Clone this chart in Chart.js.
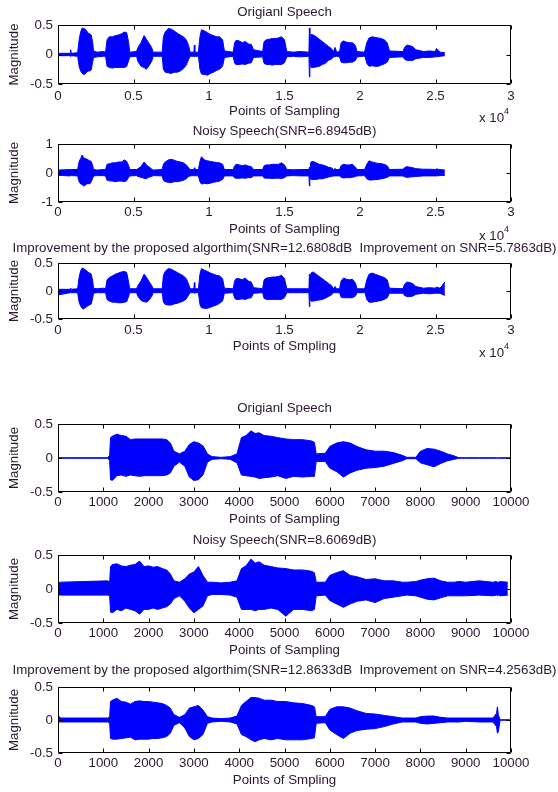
<!DOCTYPE html>
<html>
<head>
<meta charset="utf-8">
<script src="https://cdn.jsdelivr.net/npm/chart.js@4.4.1/dist/chart.umd.min.js"></script>
<style>
  html, body { margin: 0; padding: 0; background: #fff; }
  #page { position: relative; width: 558px; height: 792px; overflow: hidden; }
  #page canvas { position: absolute; left: 0; }
</style>
</head>
<body>
<div id="page"></div>
<script>
// ---- data: waveform envelopes (upper / lower peak per breakpoint) ----

// first speech clip, 0..30000 samples
const longSamples = [
  0, 800, 840, 880, 1300, 1400, 1500, 1600, 1700, 1800,
  1900, 2000, 2100, 2200, 2300, 2350, 2600, 3000, 3150, 3250,
  3400, 3600, 3800, 4000, 4200, 4400, 4550, 4680, 4750, 5200,
  5300, 5500, 5700, 5850, 6000, 6200, 6300, 6900, 6980, 7100,
  7300, 7500, 7700, 7900, 8100, 8300, 8500, 8650, 8750, 9000,
  9030, 9060, 9300, 9400, 9500, 9700, 9900, 10100, 10300, 10500,
  10700, 10900, 11020, 11600, 11700, 11800, 12000, 12200, 12400, 12600,
  12800, 12950, 13550, 13650, 13800, 14000, 14200, 14400, 14600, 14800,
  15000, 15150, 15600, 16000, 16620, 16650, 16680, 16750, 16900, 17100,
  17300, 17500, 17700, 17900, 18100, 18250, 18350, 18450, 18650, 18750,
  18900, 19100, 19300, 19500, 19700, 19800, 20250, 20330, 20450, 20600,
  20800, 21000, 21200, 21400, 21600, 21800, 21950, 22850, 22950, 23100,
  23300, 23500, 23700, 24200, 24600, 25000, 25050, 25300, 25620
];

const orig1Upper = [
  0.02, 0.02, 0.08, 0.02, 0.03, 0.25, 0.38, 0.45, 0.44, 0.43,
  0.4, 0.36, 0.35, 0.33, 0.2, 0.06, 0.04, 0.05, 0.04, 0.25,
  0.3, 0.3, 0.32, 0.33, 0.35, 0.38, 0.37, 0.2, 0.04, 0.05,
  0.12, 0.2, 0.32, 0.26, 0.2, 0.12, 0.04, 0.04, 0.3, 0.38,
  0.44, 0.43, 0.4, 0.36, 0.33, 0.3, 0.25, 0.15, 0.04, 0.04,
  0.16, 0.04, 0.04, 0.3, 0.42, 0.4, 0.37, 0.34, 0.32, 0.3,
  0.3, 0.25, 0.06, 0.04, 0.2, 0.24, 0.23, 0.2, 0.22, 0.18,
  0.17, 0.08, 0.05, 0.22, 0.25, 0.26, 0.27, 0.27, 0.28, 0.3,
  0.25, 0.05, 0.04, 0.05, 0.04, 0.45, 0.05, 0.34, 0.33, 0.3,
  0.26, 0.22, 0.18, 0.14, 0.1, 0.05, 0.12, 0.04, 0.05, 0.2,
  0.23, 0.21, 0.2, 0.2, 0.15, 0.05, 0.04, 0.07, 0.2, 0.28,
  0.3, 0.29, 0.28, 0.27, 0.25, 0.2, 0.06, 0.05, 0.12, 0.16,
  0.15, 0.13, 0.08, 0.05, 0.06, 0.05, 0.1, 0.04, 0.03
];
const orig1Lower = [
  -0.02, -0.02, -0.03, -0.02, -0.03, -0.2, -0.28, -0.32, -0.34, -0.33,
  -0.3, -0.28, -0.28, -0.26, -0.12, -0.05, -0.04, -0.03, -0.03, -0.2,
  -0.22, -0.23, -0.22, -0.22, -0.22, -0.22, -0.2, -0.1, -0.04, -0.03,
  -0.12, -0.2, -0.22, -0.25, -0.2, -0.12, -0.03, -0.03, -0.25, -0.3,
  -0.31, -0.32, -0.3, -0.3, -0.28, -0.24, -0.18, -0.08, -0.03, -0.03,
  -0.04, -0.03, -0.03, -0.25, -0.33, -0.34, -0.35, -0.32, -0.3, -0.27,
  -0.25, -0.2, -0.05, -0.03, -0.15, -0.17, -0.17, -0.16, -0.17, -0.15,
  -0.14, -0.05, -0.04, -0.15, -0.17, -0.17, -0.18, -0.17, -0.17, -0.17,
  -0.14, -0.04, -0.03, -0.04, -0.03, -0.38, -0.04, -0.22, -0.22, -0.21,
  -0.2, -0.17, -0.15, -0.1, -0.08, -0.04, -0.04, -0.03, -0.04, -0.13,
  -0.14, -0.14, -0.13, -0.13, -0.1, -0.04, -0.03, -0.03, -0.15, -0.2,
  -0.19, -0.2, -0.2, -0.18, -0.16, -0.13, -0.05, -0.04, -0.08, -0.1,
  -0.1, -0.1, -0.07, -0.05, -0.05, -0.04, -0.04, -0.03, -0.02
];

const noisy1Upper = [
  0.1, 0.12, 0.1, 0.12, 0.12, 0.4, 0.5, 0.62, 0.52, 0.5,
  0.48, 0.45, 0.42, 0.4, 0.25, 0.12, 0.1, 0.12, 0.12, 0.3,
  0.32, 0.35, 0.35, 0.38, 0.38, 0.45, 0.4, 0.25, 0.12, 0.12,
  0.15, 0.22, 0.38, 0.28, 0.22, 0.14, 0.1, 0.12, 0.3, 0.38,
  0.45, 0.47, 0.44, 0.4, 0.38, 0.35, 0.28, 0.18, 0.12, 0.12,
  0.18, 0.12, 0.12, 0.4, 0.56, 0.45, 0.42, 0.4, 0.38, 0.36,
  0.35, 0.3, 0.12, 0.12, 0.25, 0.3, 0.28, 0.25, 0.28, 0.24,
  0.22, 0.12, 0.12, 0.25, 0.28, 0.28, 0.3, 0.3, 0.3, 0.35,
  0.28, 0.12, 0.11, 0.12, 0.12, 0.2, 0.12, 0.38, 0.4, 0.35,
  0.3, 0.28, 0.25, 0.2, 0.18, 0.12, 0.15, 0.12, 0.12, 0.25,
  0.3, 0.28, 0.28, 0.3, 0.2, 0.12, 0.12, 0.14, 0.3, 0.42,
  0.38, 0.35, 0.33, 0.32, 0.3, 0.25, 0.12, 0.13, 0.18, 0.22,
  0.2, 0.18, 0.15, 0.13, 0.13, 0.12, 0.14, 0.12, 0.1
];
const noisy1Lower = [
  -0.08, -0.1, -0.08, -0.09, -0.1, -0.3, -0.38, -0.4, -0.45, -0.42,
  -0.38, -0.36, -0.38, -0.3, -0.18, -0.1, -0.09, -0.09, -0.1, -0.25,
  -0.27, -0.28, -0.3, -0.28, -0.28, -0.3, -0.26, -0.15, -0.1, -0.09,
  -0.12, -0.15, -0.18, -0.2, -0.15, -0.12, -0.09, -0.1, -0.25, -0.3,
  -0.32, -0.33, -0.3, -0.3, -0.28, -0.25, -0.2, -0.12, -0.1, -0.09,
  -0.1, -0.09, -0.1, -0.3, -0.38, -0.36, -0.37, -0.35, -0.32, -0.3,
  -0.28, -0.22, -0.1, -0.1, -0.17, -0.18, -0.18, -0.17, -0.18, -0.16,
  -0.16, -0.1, -0.1, -0.17, -0.18, -0.18, -0.19, -0.18, -0.18, -0.19,
  -0.16, -0.1, -0.09, -0.1, -0.1, -0.45, -0.12, -0.22, -0.22, -0.22,
  -0.2, -0.2, -0.17, -0.14, -0.12, -0.1, -0.1, -0.1, -0.1, -0.15,
  -0.17, -0.16, -0.16, -0.15, -0.12, -0.1, -0.09, -0.1, -0.2, -0.24,
  -0.24, -0.23, -0.22, -0.2, -0.18, -0.15, -0.1, -0.1, -0.13, -0.15,
  -0.14, -0.13, -0.12, -0.1, -0.1, -0.1, -0.1, -0.09, -0.08
];

const clean1Upper = [
  0.03, 0.03, 0.05, 0.03, 0.04, 0.25, 0.36, 0.41, 0.4, 0.38,
  0.36, 0.33, 0.32, 0.3, 0.18, 0.05, 0.04, 0.05, 0.04, 0.2,
  0.24, 0.27, 0.3, 0.32, 0.34, 0.35, 0.33, 0.15, 0.04, 0.04,
  0.1, 0.18, 0.3, 0.25, 0.18, 0.1, 0.04, 0.04, 0.28, 0.35,
  0.4, 0.39, 0.36, 0.33, 0.3, 0.27, 0.22, 0.12, 0.04, 0.04,
  0.15, 0.04, 0.04, 0.3, 0.4, 0.37, 0.35, 0.32, 0.3, 0.28,
  0.27, 0.22, 0.05, 0.04, 0.18, 0.22, 0.22, 0.2, 0.23, 0.18,
  0.16, 0.06, 0.04, 0.2, 0.23, 0.24, 0.25, 0.25, 0.26, 0.28,
  0.22, 0.04, 0.04, 0.04, 0.04, 0.3, 0.05, 0.32, 0.34, 0.3,
  0.26, 0.22, 0.18, 0.14, 0.1, 0.04, 0.08, 0.04, 0.04, 0.18,
  0.23, 0.21, 0.2, 0.21, 0.14, 0.04, 0.04, 0.06, 0.2, 0.3,
  0.32, 0.3, 0.28, 0.26, 0.24, 0.2, 0.05, 0.04, 0.12, 0.16,
  0.15, 0.13, 0.08, 0.05, 0.06, 0.05, 0.07, 0.05, 0.16
];
const clean1Lower = [
  -0.07, -0.03, -0.03, -0.03, -0.03, -0.2, -0.27, -0.31, -0.32, -0.3,
  -0.28, -0.26, -0.25, -0.23, -0.12, -0.04, -0.03, -0.03, -0.03, -0.15,
  -0.18, -0.2, -0.2, -0.21, -0.21, -0.2, -0.19, -0.09, -0.03, -0.03,
  -0.1, -0.17, -0.19, -0.2, -0.17, -0.1, -0.03, -0.03, -0.2, -0.24,
  -0.25, -0.25, -0.23, -0.22, -0.2, -0.18, -0.14, -0.07, -0.03, -0.03,
  -0.04, -0.03, -0.03, -0.24, -0.3, -0.31, -0.31, -0.29, -0.27, -0.25,
  -0.22, -0.18, -0.04, -0.03, -0.13, -0.15, -0.15, -0.14, -0.15, -0.13,
  -0.12, -0.04, -0.03, -0.13, -0.15, -0.15, -0.15, -0.15, -0.15, -0.15,
  -0.12, -0.03, -0.03, -0.03, -0.03, -0.28, -0.04, -0.18, -0.18, -0.17,
  -0.16, -0.15, -0.13, -0.1, -0.07, -0.03, -0.03, -0.03, -0.03, -0.11,
  -0.12, -0.12, -0.12, -0.12, -0.09, -0.03, -0.03, -0.03, -0.15, -0.2,
  -0.2, -0.19, -0.18, -0.17, -0.15, -0.12, -0.04, -0.04, -0.08, -0.1,
  -0.1, -0.09, -0.06, -0.04, -0.05, -0.04, -0.04, -0.04, -0.08
];

// second speech clip, 0..10000 samples
const shortSamples = [
  0, 60, 1100, 1140, 1160, 1200, 1300, 1400, 1500, 1600,
  1700, 1800, 1900, 2000, 2100, 2200, 2300, 2400, 2480, 2560,
  2680, 2800, 2900, 3000, 3100, 3200, 3300, 3400, 3600, 3800,
  3950, 4050, 4150, 4260, 4350, 4440, 4550, 4700, 4850, 5030,
  5200, 5400, 5600, 5660, 5700, 5900, 6000, 6150, 6300, 6450,
  6600, 6800, 7000, 7200, 7400, 7600, 7700, 7900, 8000, 8150,
  8300, 8450, 8600, 8750, 8850, 9000, 9300, 9600, 9680, 9700,
  9720, 9760, 9930, 9960, 10000
];

const orig2Upper = [
  0.003, 0.003, 0.003, 0.04, 0.3, 0.32, 0.35, 0.33, 0.32, 0.27,
  0.28, 0.28, 0.28, 0.28, 0.28, 0.28, 0.28, 0.27, 0.22, 0.1,
  0.06, 0.1, 0.2, 0.24, 0.22, 0.18, 0.06, 0.02, 0.01, 0.02,
  0.06, 0.3, 0.33, 0.4, 0.36, 0.37, 0.33, 0.32, 0.3, 0.28,
  0.27, 0.27, 0.25, 0.23, 0.06, 0.07, 0.17, 0.22, 0.24, 0.22,
  0.17, 0.12, 0.1, 0.1, 0.08, 0.04, 0.01, 0.01, 0.1, 0.14,
  0.13, 0.1, 0.06, 0.03, 0.003, 0.003, 0.003, 0.003, 0.003, 0.003,
  0.003, 0.003, 0.003, 0.003, 0.003
];
const orig2Lower = [
  -0.003, -0.003, -0.003, -0.04, -0.32, -0.33, -0.26, -0.25, -0.27, -0.25,
  -0.26, -0.27, -0.26, -0.26, -0.26, -0.26, -0.26, -0.25, -0.22, -0.12,
  -0.06, -0.12, -0.28, -0.33, -0.32, -0.25, -0.06, -0.02, -0.01, -0.02,
  -0.07, -0.25, -0.26, -0.27, -0.28, -0.3, -0.29, -0.28, -0.26, -0.3,
  -0.27, -0.28, -0.27, -0.27, -0.05, -0.05, -0.15, -0.2, -0.28, -0.22,
  -0.18, -0.15, -0.14, -0.12, -0.08, -0.04, -0.01, -0.01, -0.07, -0.1,
  -0.13, -0.08, -0.04, -0.02, -0.003, -0.003, -0.003, -0.003, -0.003, -0.003,
  -0.003, -0.003, -0.003, -0.003, -0.003
];

const noisy2Upper = [
  0.09, 0.1, 0.12, 0.1, 0.33, 0.36, 0.37, 0.34, 0.33, 0.35,
  0.36, 0.41, 0.33, 0.34, 0.32, 0.33, 0.3, 0.28, 0.22, 0.12,
  0.1, 0.15, 0.22, 0.25, 0.33, 0.2, 0.1, 0.1, 0.09, 0.1,
  0.12, 0.3, 0.34, 0.44, 0.38, 0.4, 0.35, 0.33, 0.31, 0.3,
  0.28, 0.28, 0.26, 0.24, 0.1, 0.1, 0.2, 0.24, 0.27, 0.2,
  0.18, 0.14, 0.15, 0.12, 0.12, 0.1, 0.1, 0.11, 0.13, 0.15,
  0.16, 0.12, 0.1, 0.1, 0.11, 0.1, 0.12, 0.1, 0.11, 0.1,
  0.1, 0.11, 0.1, null, null
];
const noisy2Lower = [
  -0.09, -0.09, -0.09, -0.1, -0.34, -0.35, -0.3, -0.32, -0.28, -0.3,
  -0.32, -0.37, -0.3, -0.3, -0.28, -0.3, -0.28, -0.26, -0.22, -0.14,
  -0.1, -0.18, -0.28, -0.35, -0.3, -0.25, -0.1, -0.08, -0.08, -0.09,
  -0.12, -0.3, -0.3, -0.3, -0.32, -0.3, -0.3, -0.28, -0.3, -0.4,
  -0.3, -0.3, -0.32, -0.3, -0.1, -0.09, -0.17, -0.22, -0.27, -0.22,
  -0.18, -0.16, -0.2, -0.14, -0.12, -0.1, -0.09, -0.1, -0.12, -0.15,
  -0.16, -0.13, -0.1, -0.1, -0.1, -0.1, -0.09, -0.1, -0.09, -0.1,
  -0.09, -0.1, -0.09, null, null
];

const clean2Upper = [
  0.07, 0.03, 0.03, 0.05, 0.28, 0.3, 0.33, 0.28, 0.27, 0.24,
  0.28, 0.29, 0.28, 0.28, 0.27, 0.26, 0.25, 0.22, 0.18, 0.08,
  0.04, 0.08, 0.18, 0.2, 0.22, 0.15, 0.05, 0.03, 0.02, 0.03,
  0.06, 0.22, 0.28, 0.34, 0.34, 0.33, 0.3, 0.3, 0.28, 0.28,
  0.26, 0.25, 0.22, 0.2, 0.05, 0.05, 0.16, 0.2, 0.2, 0.18,
  0.14, 0.1, 0.09, 0.07, 0.05, 0.03, 0.03, 0.03, 0.05, 0.06,
  0.06, 0.04, 0.03, 0.03, 0.03, 0.03, 0.03, 0.03, 0.1, 0.2,
  0.08, 0.003, 0.003, 0.003, 0.003
];
const clean2Lower = [
  -0.03, -0.03, -0.03, -0.05, -0.28, -0.29, -0.29, -0.28, -0.27, -0.26,
  -0.3, -0.29, -0.29, -0.29, -0.28, -0.28, -0.27, -0.25, -0.2, -0.08,
  -0.04, -0.12, -0.25, -0.3, -0.28, -0.22, -0.05, -0.03, -0.02, -0.03,
  -0.06, -0.22, -0.25, -0.3, -0.33, -0.3, -0.28, -0.3, -0.28, -0.3,
  -0.3, -0.3, -0.28, -0.27, -0.05, -0.04, -0.15, -0.22, -0.28, -0.2,
  -0.16, -0.14, -0.13, -0.1, -0.06, -0.03, -0.03, -0.03, -0.05, -0.06,
  -0.05, -0.04, -0.03, -0.03, -0.03, -0.02, -0.03, -0.03, -0.1, -0.2,
  -0.18, -0.003, -0.003, -0.003, -0.003
];

// titles and axis texts
const titles = [
  "Origianl Speech",
  "Noisy Speech(SNR=6.8945dB)",
  "Improvement by the proposed algorthim(SNR=12.6808dB  Improvement on SNR=5.7863dB)",
  "Origianl Speech",
  "Noisy Speech(SNR=8.6069dB)",
  "Improvement by the proposed algorthim(SNR=12.8633dB  Improvement on SNR=4.2563dB)"
];
const xLabels = [
  "Points of Sampling", "Points of Sampling", "Points of Smpling",
  "Points of Sampling", "Points of Sampling", "Points of Smpling"
];
const yLabel = "Magnitude";

// ---- layout (pixel positions of each axes box) ----
const panels = [
  { titleY: 12,  top: 25,  bottom: 84,  tickGap: 12,   xMax: 30000, xStep: 5000, yMax: 0.5, samples: longSamples,  upper: orig1Upper,  lower: orig1Lower,  exp: true },
  { titleY: 131, top: 144, bottom: 202, tickGap: 10.5, xMax: 30000, xStep: 5000, yMax: 1,   samples: longSamples,  upper: noisy1Upper, lower: noisy1Lower, exp: true },
  { titleY: 248, top: 263, bottom: 319, tickGap: 11,   xMax: 30000, xStep: 5000, yMax: 0.5, samples: longSamples,  upper: clean1Upper, lower: clean1Lower, exp: true },
  { titleY: 408, top: 424, bottom: 492, tickGap: 10.5, xMax: 10000, xStep: 1000, yMax: 0.5, samples: shortSamples, upper: orig2Upper,  lower: orig2Lower,  exp: false },
  { titleY: 540, top: 555, bottom: 623, tickGap: 10.5, xMax: 10000, xStep: 1000, yMax: 0.5, samples: shortSamples, upper: noisy2Upper, lower: noisy2Lower, exp: false },
  { titleY: 670, top: 687, bottom: 753, tickGap: 10.5, xMax: 10000, xStep: 1000, yMax: 0.5, samples: shortSamples, upper: clean2Upper, lower: clean2Lower, exp: false }
];

const BLUE = "#0000ff";
const TEXT = "#2a1830";
const FAMILY = "'Liberation Sans', Arial, sans-serif";
const FS = 13.3;
const LH = FS * 1.2;
const PLOT_LEFT = 58;
const PLOT_RIGHT = 511;

// MATLAB-like box with inward ticks on all sides, the title centred on the box, and "x 10^4"
const boxTicks = {
  id: "boxTicks",
  afterDraw(chart, args, opts) {
    const { ctx, chartArea: a, scales: { x, y } } = chart;
    const L = Math.round(a.left) + 0.5, R = Math.round(a.right) - 0.5;
    const T = Math.round(a.top) + 0.5, B = Math.round(a.bottom) - 0.5;
    ctx.save();
    ctx.strokeStyle = "#000";
    ctx.lineWidth = 1;
    ctx.beginPath();
    x.ticks.forEach((t) => {
      const px = Math.round(x.getPixelForValue(t.value)) + 0.5;
      ctx.moveTo(px, B); ctx.lineTo(px, B - 4);
      ctx.moveTo(px, T); ctx.lineTo(px, T + 4);
    });
    y.ticks.forEach((t) => {
      const py = Math.round(y.getPixelForValue(t.value)) + 0.5;
      ctx.moveTo(L, py); ctx.lineTo(L + 4, py);
      ctx.moveTo(R, py); ctx.lineTo(R - 4, py);
    });
    ctx.rect(L, T, R - L, B - T);
    ctx.stroke();

    ctx.fillStyle = TEXT;
    ctx.textBaseline = "middle";
    ctx.font = FS + "px " + FAMILY;
    ctx.textAlign = "center";
    ctx.fillText(opts.title, (a.left + a.right) / 2, opts.titleY);
    if (opts.exp) {
      ctx.textAlign = "left";
      ctx.fillText("x 10", a.right - 32, a.bottom + 34);
      ctx.font = "9px " + FAMILY;
      ctx.fillText("4", a.right - 7, a.bottom + 28);
    }
    ctx.restore();
  }
};

function makePanel(p, i) {
  const tickY = p.bottom + p.tickGap;
  const labelY = p.bottom + 27;
  const canvasTop = Math.floor(p.titleY - LH / 2) - 1;
  const canvasBottom = Math.ceil(labelY + LH / 2) + 8;
  const canvas = document.createElement("canvas");
  canvas.width = 558;
  canvas.height = canvasBottom - canvasTop;
  canvas.style.top = canvasTop + "px";
  document.getElementById("page").appendChild(canvas);

  const font = { family: FAMILY, size: FS, weight: "normal" };

  new Chart(canvas.getContext("2d"), {
    type: "line",
    data: {
      datasets: [
        {
          data: p.samples.map((s, k) => ({ x: s, y: p.upper[k] })),
          borderColor: BLUE,
          backgroundColor: BLUE,
          borderWidth: 1,
          pointRadius: 0,
          tension: 0,
          fill: "+1",
        },
        {
          data: p.samples.map((s, k) => ({ x: s, y: p.lower[k] })),
          borderColor: BLUE,
          borderWidth: 1,
          pointRadius: 0,
          tension: 0,
          fill: false,
        },
      ],
    },
    options: {
      responsive: false,
      animation: false,
      devicePixelRatio: 1,
      layout: { padding: { left: 0, right: 558 - PLOT_RIGHT, top: p.top - canvasTop, bottom: 0 } },
      plugins: {
        legend: { display: false },
        tooltip: { enabled: false },
        title: { display: false },
        boxTicks: { exp: p.exp, title: titles[i], titleY: p.titleY - canvasTop },
      },
      scales: {
        x: {
          type: "linear",
          min: 0,
          max: p.xMax,
          grid: { display: false, drawTicks: false },
          border: { display: false },
          ticks: {
            stepSize: p.xStep,
            autoSkip: false,
            maxRotation: 0,
            color: TEXT,
            font: font,
            padding: tickY - p.bottom - LH / 2,
            callback: (v) => (p.xMax > 10000 ? String(v / 10000) : String(v)),
          },
          title: {
            display: true,
            text: xLabels[i],
            color: TEXT,
            font: font,
            padding: { top: 0, bottom: canvasBottom - labelY - LH / 2 },
          },
          afterFit: (scale) => { scale.height = canvasBottom - p.bottom; },
        },
        y: {
          min: -p.yMax,
          max: p.yMax,
          grid: { display: false, drawTicks: false },
          border: { display: false },
          ticks: {
            stepSize: p.yMax,
            color: TEXT,
            font: font,
            padding: 5,
            callback: (v) => String(v),
          },
          title: {
            display: true,
            text: yLabel,
            color: TEXT,
            font: font,
            padding: { top: 6, bottom: 0 },
          },
          afterFit: (scale) => { scale.width = PLOT_LEFT; },
        },
      },
    },
    plugins: [boxTicks],
  });
}

panels.forEach(makePanel);
</script>
</body>
</html>
